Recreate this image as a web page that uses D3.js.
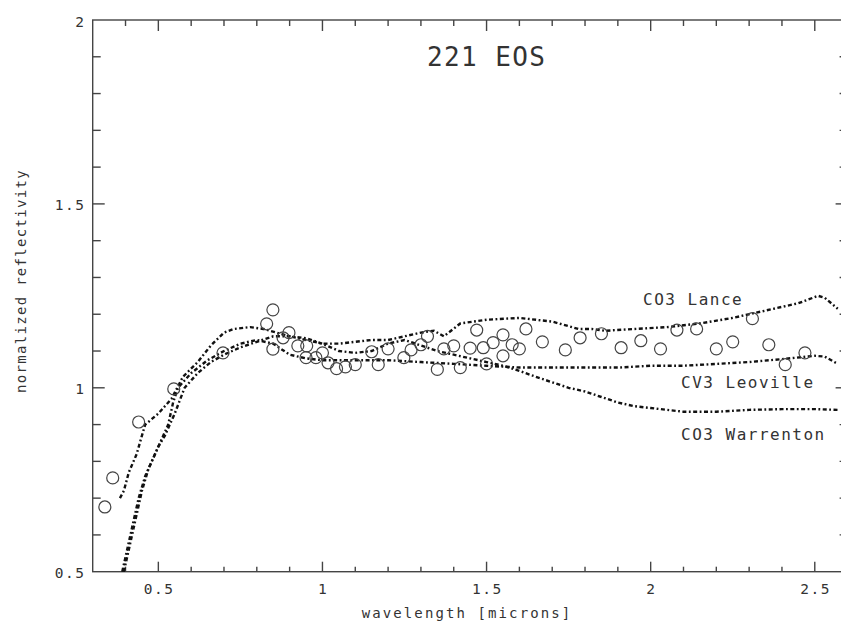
<!DOCTYPE html>
<html>
<head>
<meta charset="utf-8">
<script src="https://cdn.jsdelivr.net/npm/d3@7"></script>
<style>
html,body{margin:0;padding:0;background:#fff;}
svg text{font-family:"DejaVu Sans Mono",monospace;fill:#333;}
</style>
</head>
<body>
<svg id="chart" width="841" height="623"></svg>
<script>
// ---- data ----
const title = "221 EOS";
const xLabel = "wavelength [microns]";
const yLabel = "normalized reflectivity";
const xTickValues = [0.5, 1, 1.5, 2, 2.5];
const xTickLabels = ["0.5", "1", "1.5", "2", "2.5"];
const yTickValues = [0.5, 1, 1.5, 2];
const yTickLabels = ["0.5", "1", "1.5", "2"];

// asteroid 221 Eos observations
const eosWl = [0.337,0.361,0.44,0.547,0.697,0.83,0.849,0.849,0.88,0.898,0.925,0.952,0.95,0.98,1.0,1.017,1.043,1.07,1.1,1.15,1.17,1.2,1.248,1.27,1.3,1.32,1.35,1.37,1.40,1.42,1.45,1.47,1.49,1.50,1.52,1.55,1.55,1.578,1.60,1.62,1.67,1.74,1.785,1.85,1.91,1.97,2.03,2.08,2.14,2.20,2.25,2.31,2.36,2.41,2.47];
const eosR  = [0.676,0.755,0.907,0.997,1.095,1.174,1.212,1.105,1.136,1.15,1.114,1.114,1.082,1.082,1.095,1.068,1.052,1.057,1.063,1.098,1.063,1.106,1.082,1.103,1.117,1.14,1.05,1.106,1.114,1.055,1.108,1.157,1.109,1.065,1.123,1.144,1.087,1.117,1.106,1.16,1.125,1.103,1.136,1.147,1.109,1.128,1.106,1.157,1.16,1.106,1.125,1.188,1.117,1.063,1.095];

// meteorite spectra
const lanceWl = [0.383,0.395,0.41,0.434,0.45,0.46,0.50,0.54,0.575,0.62,0.66,0.70,0.73,0.78,0.82,0.90,1.0,1.05,1.15,1.2,1.3,1.34,1.37,1.42,1.5,1.6,1.7,1.78,1.82,1.86,1.95,2.05,2.15,2.25,2.35,2.45,2.51,2.53,2.57];
const lanceR  = [0.70,0.72,0.77,0.82,0.87,0.90,0.93,0.97,1.03,1.07,1.115,1.15,1.16,1.165,1.16,1.14,1.12,1.12,1.13,1.13,1.15,1.155,1.14,1.175,1.185,1.19,1.18,1.16,1.16,1.155,1.16,1.165,1.175,1.19,1.21,1.23,1.25,1.245,1.215];

const leovilleWl = [0.395,0.41,0.425,0.44,0.45,0.47,0.49,0.51,0.53,0.545,0.56,0.6,0.65,0.7,0.75,0.8,0.85,0.9,0.95,1.0,1.1,1.2,1.3,1.4,1.5,1.6,1.7,1.8,1.9,2.0,2.1,2.2,2.3,2.4,2.5,2.53,2.57];
const leovilleR  = [0.50,0.56,0.62,0.68,0.72,0.78,0.82,0.86,0.90,0.96,1.0,1.04,1.075,1.10,1.12,1.13,1.12,1.09,1.08,1.075,1.075,1.075,1.07,1.065,1.06,1.055,1.055,1.055,1.055,1.06,1.06,1.065,1.07,1.078,1.087,1.085,1.065];

const warrentonWl = [0.39,0.40,0.42,0.44,0.46,0.48,0.50,0.52,0.55,0.58,0.62,0.66,0.7,0.75,0.8,0.85,0.9,0.95,1.0,1.05,1.1,1.15,1.2,1.25,1.3,1.35,1.4,1.45,1.5,1.55,1.6,1.65,1.7,1.75,1.8,1.85,1.9,1.95,2.0,2.1,2.2,2.3,2.4,2.5,2.57];
const warrentonR  = [0.50,0.54,0.62,0.70,0.76,0.80,0.84,0.87,0.93,1.0,1.04,1.07,1.09,1.11,1.125,1.14,1.14,1.135,1.12,1.10,1.095,1.10,1.12,1.13,1.115,1.10,1.09,1.08,1.07,1.06,1.046,1.03,1.015,1.0,0.99,0.975,0.96,0.95,0.945,0.935,0.935,0.94,0.942,0.942,0.94];

const seriesNames = ["CO3 Lance", "CV3 Leoville", "CO3 Warrenton"];

// ---- drawing ----
const svg = d3.select("#chart");
const x = d3.scaleLinear().domain([0.3, 2.6]).range([92.7, 847.6]);
const y = d3.scaleLinear().domain([0.5, 2]).range([571.7, 20]);
const axisColor = "#444";

const minorX = d3.range(4, 26).map(d => d / 10);
const minorY = d3.range(6, 20).map(d => d / 10);
const isMajor = v => Math.abs(v * 2 - Math.round(v * 2)) < 1e-6;

// frame
const g = svg.append("g").attr("stroke", axisColor).attr("stroke-width", 1.4).attr("fill", "none");
g.append("rect").attr("x", x(0.3)).attr("y", y(2)).attr("width", x(2.6) - x(0.3)).attr("height", y(0.5) - y(2));

// x ticks bottom & top
minorX.forEach(v => {
  const L = isMajor(v);
  g.append("line").attr("x1", x(v)).attr("x2", x(v)).attr("y1", y(0.5)).attr("y2", y(0.5) - (L ? 10 : 5));
  g.append("line").attr("x1", x(v)).attr("x2", x(v)).attr("y1", y(2)).attr("y2", y(2) + (L ? 11 : 6));
});
// y ticks left & right
minorY.forEach(v => {
  const L = isMajor(v);
  g.append("line").attr("y1", y(v)).attr("y2", y(v)).attr("x1", x(0.3)).attr("x2", x(0.3) + (L ? 12 : 8));
  g.append("line").attr("y1", y(v)).attr("y2", y(v)).attr("x1", x(2.6)).attr("x2", x(2.6) - (L ? 12 : 8));
});

// tick labels
const fs = 14.5, ls = 1.5;
xTickValues.forEach((v, i) => {
  svg.append("text").attr("x", x(v) + ls / 2).attr("y", 594).attr("text-anchor", "middle")
    .attr("font-size", fs).attr("letter-spacing", ls).text(xTickLabels[i]);
});
yTickValues.forEach((v, i) => {
  svg.append("text").attr("x", 84 + ls).attr("y", y(v) + 6.5).attr("text-anchor", "end")
    .attr("font-size", fs).attr("letter-spacing", ls).text(yTickLabels[i]);
});

// axis labels
svg.append("text").attr("x", 467).attr("y", 618).attr("text-anchor", "middle")
  .attr("font-size", 14).attr("letter-spacing", 2.1).text(xLabel);
svg.append("text").attr("transform", "translate(26,281) rotate(-90)").attr("text-anchor", "middle")
  .attr("font-size", 14).attr("letter-spacing", 1.3).text(yLabel);

// title
svg.append("text").attr("x", 427).attr("y", 66).attr("font-size", 26).attr("letter-spacing", 1.4).text(title);

// spectra
const line = d3.line().x(d => x(d[0])).y(d => y(d[1]));
const spectra = [
  [lanceWl, lanceR],
  [leovilleWl, leovilleR],
  [warrentonWl, warrentonR]
];
spectra.forEach(([wl, r]) => {
  svg.append("path").datum(wl.map((w, i) => [w, r[i]]))
    .attr("d", line).attr("fill", "none").attr("stroke", "#111")
    .attr("stroke-width", 2.4).attr("stroke-dasharray", "4,2.5,1.8,2.5");
});

// series labels
const labelPos = [[643, 305], [681, 388], [681, 440]];
seriesNames.forEach((n, i) => {
  svg.append("text").attr("x", labelPos[i][0]).attr("y", labelPos[i][1])
    .attr("font-size", 16).attr("letter-spacing", 1.5).text(n);
});

// observations
svg.append("g").selectAll("circle").data(eosWl.map((w, i) => [w, eosR[i]])).join("circle")
  .attr("cx", d => x(d[0])).attr("cy", d => y(d[1])).attr("r", 6)
  .attr("fill", "none").attr("stroke", "#444").attr("stroke-width", 1.2);
</script>
</body>
</html>
